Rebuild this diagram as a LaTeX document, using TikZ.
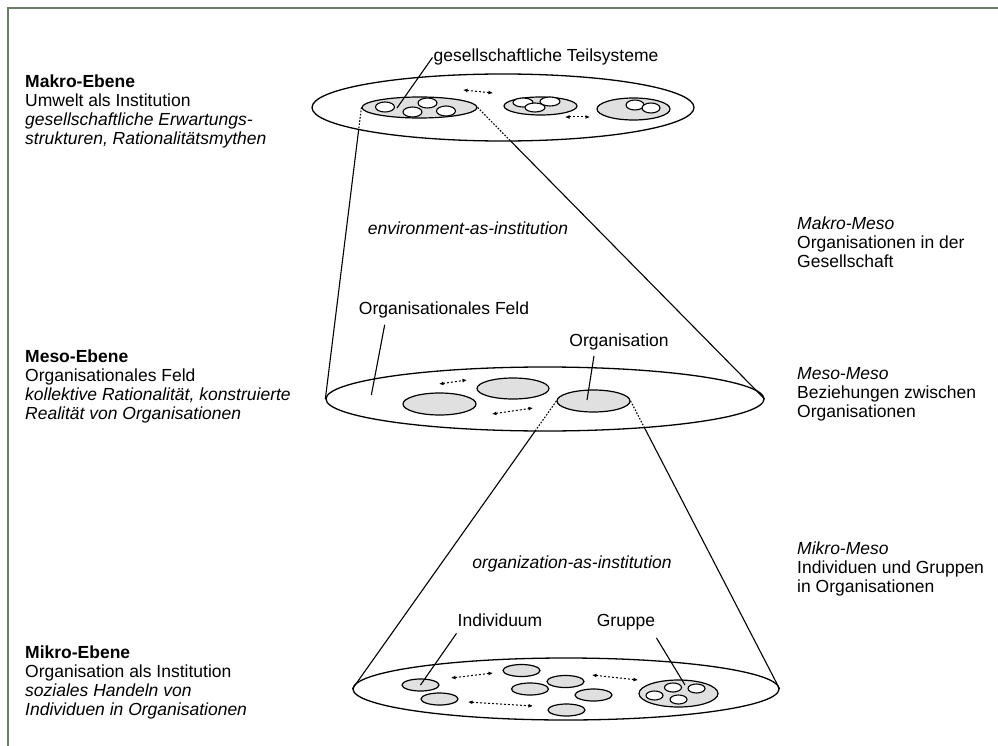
\documentclass[tikz,border=0pt]{standalone}
\usepackage{fontspec}
\setmainfont{Liberation Sans}
\usetikzlibrary{shapes.geometric,arrows.meta,intersections}
\definecolor{subgray}{RGB}{224,224,224}
\definecolor{framec}{RGB}{105,125,105}
\begin{document}
\begin{tikzpicture}[x=1pt,y=-1pt,
  ell/.style={ellipse,draw,inner sep=0pt,line width=1.3pt},
  sub/.style={ellipse,draw,fill=subgray,inner sep=0pt,line width=1.2pt},
  dotc/.style={ellipse,draw,fill=white,inner sep=0pt,line width=1.1pt,minimum width=19pt,minimum height=10pt},
  indiv/.style={sub,minimum width=37pt,minimum height=12pt},
  cone/.style={line width=1.1pt},
  conedot/.style={line width=1.1pt,dash pattern=on 1.6pt off 1.6pt},
  rel/.style={line width=1pt,dash pattern=on 2pt off 2pt,{Latex[length=4.5pt,width=4pt]}-{Latex[length=4.5pt,width=4pt]}},
  lead/.style={line width=1.1pt},
  txt/.style={inner sep=0pt,font=\fontsize{17.5}{19}\selectfont},
  side/.style={txt,align=left,anchor=base west},
]
\useasboundingbox (0,0) rectangle (998,746);
\draw[framec,line width=2pt] (998,8) -- (8,8) -- (8,746);

% ---------- Makro level ----------
\node[ell,minimum width=382pt,minimum height=67pt] (makro) at (503,107.5) {};
\node[sub,minimum width=115pt,minimum height=21pt] (ts1) at (419.5,107.5) {};
\node[dotc] (d11) at (385,107) {};
\node[dotc] (d12) at (412.5,112) {};
\node[dotc] (d13) at (427.5,103) {};
\node[dotc] (d14) at (446,111) {};
\node[sub,minimum width=73pt,minimum height=18pt] (ts2) at (540.5,106) {};
\node[dotc,minimum width=20pt,minimum height=9pt] (d21) at (523,102.5) {};
\node[dotc,minimum width=20pt,minimum height=9pt] (d22) at (535,107.5) {};
\node[dotc,minimum width=20pt,minimum height=9pt] (d23) at (550,101.5) {};
\node[sub,minimum width=73pt,minimum height=22pt] (ts3) at (633.5,109) {};
\node[dotc,minimum width=18pt] (d31) at (635,105) {};
\node[dotc,minimum width=18pt] (d32) at (651,108) {};
\coordinate (a1s) at (463,90);
\coordinate (a1e) at (493,93);
\coordinate (a2s) at (565,117);
\coordinate (a2e) at (590,117);
\draw[rel] (a1s) -- (a1e);
\draw[rel] (a2s) -- (a2e);

\node[txt,anchor=base] (lTS) at (546,62) {gesellschaftliche Teilsysteme};
\draw[lead] ([xshift=-1pt]lTS.west) -- ([shift={(-22.5,0.5)}]ts1.center);

% ---------- Meso level ----------
\node[ell,minimum width=438pt,minimum height=64pt] (meso) at (545,399) {};
\node[sub,minimum width=73pt,minimum height=22pt] (oA) at (439.5,404) {};
\node[sub,minimum width=72pt,minimum height=21pt] (oB) at (513,388.5) {};
\node[sub,minimum width=73pt,minimum height=22pt] (org) at (593.5,401) {};
\coordinate (b1s) at (439,384);
\coordinate (b1e) at (467,380);
\coordinate (b2s) at (492,414);
\coordinate (b2e) at (533,408);
\draw[rel] (b1s) -- (b1e);
\draw[rel] (b2s) -- (b2e);

\node[txt,anchor=base] (lOF) at (444,314) {Organisationales Feld};
\draw[lead] ([shift={(26,7)}]lOF.south west) -- ([shift={(46,-4)}]meso.west);
\node[txt,anchor=base] (lOrg) at (619,346) {Organisation};
\draw[lead] ([shift={(-25,6)}]lOrg.south) -- ([shift={(-6.5,-1)}]org.center);

% ---------- Mikro level ----------
\node[ell,minimum width=426pt,minimum height=62pt] (mikro) at (566,689) {};
\node[indiv] (i1) at (420.5,685) {};
\node[indiv] (i2) at (439.5,699) {};
\node[indiv] (i3) at (521.5,670.5) {};
\node[indiv] (i4) at (530,689) {};
\node[indiv] (i5) at (565.5,681.5) {};
\node[indiv] (i6) at (593.5,695) {};
\node[indiv] (i7) at (566.5,710) {};
\node[sub,minimum width=79pt,minimum height=27pt] (grp) at (678.5,693.5) {};
\node[dotc,minimum width=17pt,minimum height=9pt] (g1) at (654.5,695.5) {};
\node[dotc,minimum width=17pt,minimum height=9pt] (g2) at (673,687.5) {};
\node[dotc,minimum width=17pt,minimum height=9pt] (g3) at (696.5,688.5) {};
\node[dotc,minimum width=17pt,minimum height=9pt] (g4) at (678.5,699.5) {};
\coordinate (c1s) at (451,678);
\coordinate (c1e) at (493,673);
\coordinate (c2s) at (468,702);
\coordinate (c2e) at (533,706);
\coordinate (c3s) at (592,675);
\coordinate (c3e) at (638,680);
\draw[rel] (c1s) -- (c1e);
\draw[rel] (c2s) -- (c2e);
\draw[rel] (c3s) -- (c3e);

\node[txt,anchor=base] (lInd) at (500,626) {Individuum};
\draw[lead] ([shift={(-1,7)}]lInd.south west) -- (i1.center);
\node[txt,anchor=base] (lGr) at (626,626) {Gruppe};
\draw[lead] ([shift={(1,8)}]lGr.south east) -- ([shift={(6.5,-8.5)}]grp.center);

% ---------- cones ----------
\path[name path=pMakro] (makro.center) ellipse [x radius=191, y radius=33.5];
\path[name path=pMeso] (meso.center) ellipse [x radius=219, y radius=32];
\path[name path=cL] (ts1.west) -- (meso.west);
\path[name path=cR] (ts1.east) -- (meso.east);
\path[name path=dL] (org.west) -- (mikro.west);
\path[name path=dR] (org.east) -- (mikro.east);
\path[name intersections={of=pMakro and cL,by=iL}];
\path[name intersections={of=pMakro and cR,by=iR}];
\path[name intersections={of=pMeso and dL,by=jL}];
\path[name intersections={of=pMeso and dR,by=jR}];
\draw[conedot] (ts1.west) -- (iL);
\draw[cone] (iL) -- (meso.west);
\draw[conedot] (ts1.east) -- (iR);
\draw[cone] (iR) -- (meso.east);
\draw[conedot] (org.west) -- (jL);
\draw[cone] (jL) -- (mikro.west);
\draw[conedot] (org.east) -- (jR);
\draw[cone] (jR) -- (mikro.east);

\node[txt,anchor=base] (eai) at (468,234) {\textit{environment-as-institution}};
\node[txt,anchor=base] (oai) at (572,568) {\textit{organization-as-institution}};

% ---------- side texts (base = last line) ----------
\node[side] (lMakro) at (25,145) {\textbf{Makro-Ebene}\\Umwelt als Institution\\\textit{gesellschaftliche Erwartungs-}\\\textit{strukturen, Rationalitätsmythen}};
\node[side] (lMeso) at (25,419) {\textbf{Meso-Ebene}\\Organisationales Feld\\\textit{kollektive Rationalität, konstruierte}\\\textit{Realität von Organisationen}};
\node[side] (lMikro) at (25,715) {\textbf{Mikro-Ebene}\\Organisation als Institution\\\textit{soziales Handeln von}\\\textit{Individuen in Organisationen}};

\node[side] (rMakro) at (797,267) {\textit{Makro-Meso}\\Organisationen in der\\Gesellschaft};
\node[side] (rMeso) at (797,417) {\textit{Meso-Meso}\\Beziehungen zwischen\\Organisationen};
\node[side] (rMikro) at (797,592) {\textit{Mikro-Meso}\\Individuen und Gruppen\\in Organisationen};
\end{tikzpicture}
\end{document}
